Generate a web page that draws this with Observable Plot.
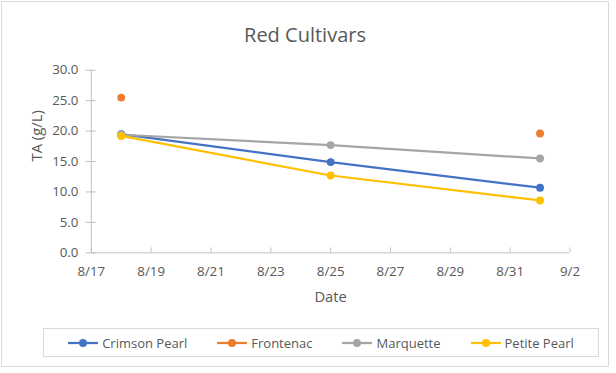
<!DOCTYPE html>
<html><head><meta charset="utf-8">
<script src="https://cdn.jsdelivr.net/npm/d3@7"></script>
<script src="https://cdn.jsdelivr.net/npm/@observablehq/plot@0.6"></script>
<style>
body{margin:0;background:#fff;font-family:"Open Sans","Noto Sans",sans-serif;}
#wrap{position:relative;width:608px;height:366px;border:1px solid #d9d9d9;box-sizing:border-box;margin:1px 0 0 1px;overflow:hidden;}
#title{position:absolute;top:19px;left:0;width:100%;text-align:center;font-size:20px;color:#595959;}
#chart{position:absolute;top:47px;left:-2px;}
#legend{position:absolute;left:41px;top:326px;width:556px;height:29px;border:1px solid #d9d9d9;box-sizing:border-box;display:flex;align-items:center;justify-content:center;gap:30px;font-size:13px;color:#595959;}
.item{display:flex;align-items:center;gap:4px;}
</style></head>
<body>
<div id="wrap">
<div id="title">Red Cultivars</div>
<div id="chart"></div>
<div id="legend"></div>
</div>
<script>
const dates = ["2019-08-18","2019-08-25","2019-09-01"];
const seriesNames = ["Crimson Pearl","Frontenac","Marquette","Petite Pearl"];
const colors = ["#4472C4","#ED7D31","#A5A5A5","#FFC000"];
const crimsonPearl = [19.5, 14.9, 10.7];
const frontenac = [25.5, null, 19.6];
const marquette = [19.4, 17.7, 15.5];
const petitePearl = [19.2, 12.7, 8.6];
const yTicks = [0,5,10,15,20,25,30];
const xTicks = ["2019-08-17","2019-08-19","2019-08-21","2019-08-23","2019-08-25","2019-08-27","2019-08-29","2019-08-31","2019-09-02"];

const toDate = s => new Date(s+"T00:00:00Z");
const values = [crimsonPearl, frontenac, marquette, petitePearl];
const data = [];
seriesNames.forEach((s,i)=>dates.forEach((d,j)=>data.push({series:s, date:toDate(d), value:values[i][j]})));
const xTickDates = xTicks.map(toDate);

const axisColor = "#bfbfbf";
const plot = Plot.plot({
  width: 616, height: 272,
  marginLeft: 92, marginRight: 39, marginTop: 21, marginBottom: 66,
  style: {fontFamily: '"Open Sans","Noto Sans",sans-serif', fontSize: "13px", color: "#595959", background: "transparent"},
  x: {type: "utc", domain: [xTickDates[0], xTickDates[xTickDates.length-1]], label: null},
  y: {domain: [0, 30], label: null},
  color: {domain: seriesNames, range: colors},
  marks: [
    Plot.ruleY([0], {stroke: axisColor, strokeWidth: 1}),
    Plot.ruleX([xTickDates[0]], {stroke: axisColor, strokeWidth: 1}),
    Plot.axisX({ticks: xTickDates, tickFormat: d3.utcFormat("%-m/%-d"), tickSize: 0, tickPadding: 14, fill: "#595959", fontSize: 13.5, label: null}),
    Plot.axisX({ticks: xTickDates, tickFormat: () => "", tickSize: -5, stroke: axisColor, strokeOpacity: 1, label: null}),
    Plot.axisY({ticks: yTicks, tickFormat: d=>d.toFixed(1), tickSize: 5, stroke: axisColor, strokeOpacity: 1, tickPadding: 8, fill: "#595959", fontSize: 13.5, label: null}),
    Plot.axisY({ticks: yTicks, tickFormat: () => "", tickSize: -5, stroke: axisColor, strokeOpacity: 1, label: null}),
    Plot.line(data, {x: "date", y: "value", z: "series", stroke: "series", strokeWidth: 2.25}),
    Plot.dot(data, {x: "date", y: "value", fill: "series", r: 4, stroke: "none"}),
    Plot.text(["Date"], {frameAnchor: "bottom", dy: 50, fontSize: 15, fill: "#595959"}),
    Plot.text(["TA (g/L)"], {frameAnchor: "left", dx: -55, rotate: -90, fontSize: 15, fill: "#595959"})
  ]
});
document.getElementById("chart").appendChild(plot);

const leg = document.getElementById("legend");
seriesNames.forEach((s,i)=>{
  const it = document.createElement("div"); it.className="item";
  it.innerHTML = `<svg width="30" height="10"><line x1="0" x2="30" y1="5" y2="5" stroke="${colors[i]}" stroke-width="2.25"/><circle cx="15" cy="5" r="4" fill="${colors[i]}"/></svg><span>${s}</span>`;
  leg.appendChild(it);
});
</script>
</body></html>
